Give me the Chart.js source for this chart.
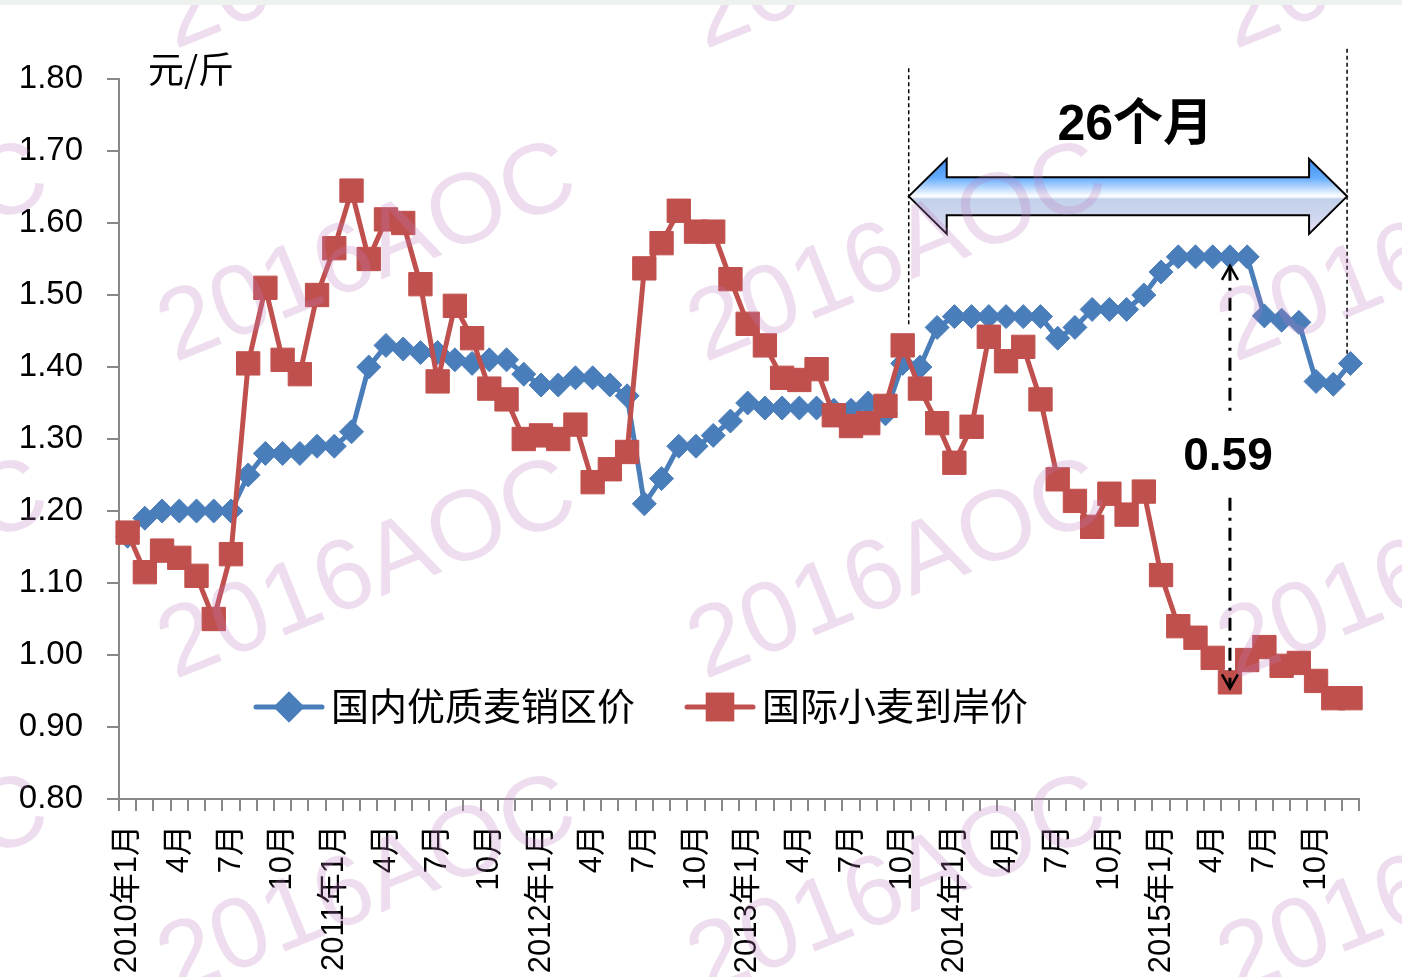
<!DOCTYPE html>
<html lang="zh">
<head>
<meta charset="UTF-8">
<title>国内优质麦销区价 vs 国际小麦到岸价</title>
<script src="https://cdn.jsdelivr.net/npm/chart.js@4.4.0/dist/chart.umd.min.js"></script>
<style>
    body { margin: 0; background: #fff; }
    #wrap { position: relative; width: 1402px; height: 977px; }
    #band { position: absolute; left: 0; top: 0; width: 1402px; height: 5px; background: #eef2ee; }
</style>
</head>
<body>
<div id="wrap">
    <canvas id="c"></canvas>
    <div id="band"></div>
</div>
<script>
// x 轴刻度 (2010年1月 - 2015年12月, 每季度一个标签)
const tickLabels = [
    '2010年1月', '', '', '4月', '', '', '7月', '', '', '10月', '', '',
    '2011年1月', '', '', '4月', '', '', '7月', '', '', '10月', '', '',
    '2012年1月', '', '', '4月', '', '', '7月', '', '', '10月', '', '',
    '2013年1月', '', '', '4月', '', '', '7月', '', '', '10月', '', '',
    '2014年1月', '', '', '4月', '', '', '7月', '', '', '10月', '', '',
    '2015年1月', '', '', '4月', '', '', '7月', '', '', '10月', '', ''
];

// 国内优质麦销区价 (元/斤)
const domestic = [
    1.165, 1.19, 1.20, 1.20, 1.20, 1.20, 1.20, 1.25, 1.28, 1.28, 1.28, 1.29,
    1.29, 1.31, 1.40, 1.43, 1.425, 1.42, 1.42, 1.41, 1.405, 1.41, 1.41, 1.39,
    1.375, 1.375, 1.385, 1.385, 1.375, 1.36, 1.21, 1.245, 1.29, 1.29, 1.305, 1.325,
    1.35, 1.343, 1.343, 1.343, 1.343, 1.34, 1.34, 1.35, 1.335, 1.405, 1.40, 1.455,
    1.47, 1.47, 1.47, 1.47, 1.47, 1.47, 1.44, 1.455, 1.48, 1.48, 1.48, 1.50,
    1.532, 1.553, 1.553, 1.553, 1.553, 1.553, 1.471, 1.465, 1.462, 1.38, 1.376, 1.405
];

// 国际小麦到岸价 (元/斤)
const imported = [
    1.17, 1.115, 1.145, 1.135, 1.11, 1.05, 1.14, 1.405, 1.51, 1.41, 1.39, 1.50,
    1.565, 1.645, 1.55, 1.605, 1.60, 1.515, 1.38, 1.485, 1.44, 1.37, 1.355, 1.30,
    1.305, 1.30, 1.32, 1.24, 1.258, 1.282, 1.537, 1.572, 1.617, 1.588, 1.588, 1.522,
    1.46, 1.43, 1.385, 1.382, 1.397, 1.333, 1.318, 1.322, 1.346, 1.43, 1.37, 1.322,
    1.267, 1.317, 1.442, 1.408, 1.428, 1.355, 1.244, 1.214, 1.178, 1.224, 1.195, 1.227,
    1.111, 1.04, 1.024, 0.996, 0.962, 0.993, 1.011, 0.985, 0.989, 0.964, 0.94, 0.94
];

const BLUE = '#4A7EBB';
const RED = '#C0504D';
const CJK = '"Noto Sans CJK SC"';

// 标注: 26个月区间 (按类目索引) 与价差位置
const spanFrom = 45.35, spanTo = 70.8, gapAt = 64;

function blockArrow(ctx, x1, x2, yc, sh, hh, hl) {
    ctx.beginPath();
    ctx.moveTo(x1, yc);
    ctx.lineTo(x1 + hl, yc - hh);
    ctx.lineTo(x1 + hl, yc - sh);
    ctx.lineTo(x2 - hl, yc - sh);
    ctx.lineTo(x2 - hl, yc - hh);
    ctx.lineTo(x2, yc);
    ctx.lineTo(x2 - hl, yc + hh);
    ctx.lineTo(x2 - hl, yc + sh);
    ctx.lineTo(x1 + hl, yc + sh);
    ctx.lineTo(x1 + hl, yc + hh);
    ctx.closePath();
}

const overlay = {
    id: 'overlay',
    afterDatasetsDraw(chart) {
        const ctx = chart.ctx;
        const xs = chart.scales.x, ys = chart.scales.y;
        const area = chart.chartArea;
        ctx.save();

        // 单位
        ctx.fillStyle = '#000';
        ctx.font = '36px ' + CJK;
        ctx.textAlign = 'left';
        ctx.textBaseline = 'middle';
        ctx.fillText('元/斤', area.left + 29, 69);

        // 竖虚线
        const xa = xs.getPixelForValue(spanFrom), xb = xs.getPixelForValue(spanTo);
        ctx.strokeStyle = '#000';
        ctx.lineWidth = 1.5;
        ctx.setLineDash([4, 3]);
        ctx.beginPath();
        ctx.moveTo(xa, ys.getPixelForValue(1.815));
        ctx.lineTo(xa, ys.getPixelForValue(1.458));
        ctx.moveTo(xb, ys.getPixelForValue(1.842));
        ctx.lineTo(xb, ys.getPixelForValue(1.418));
        ctx.stroke();
        ctx.setLineDash([]);

        // 双向箭头
        const yc = ys.getPixelForValue(1.637);
        const g = ctx.createLinearGradient(0, yc - 37, 0, yc + 37);
        g.addColorStop(0, '#3f8ff0');
        g.addColorStop(0.25, '#66adfc');
        g.addColorStop(0.42, '#cfe4fd');
        g.addColorStop(0.5, '#ffffff');
        g.addColorStop(0.54, '#c2d1ea');
        g.addColorStop(0.76, '#cdd6ee');
        g.addColorStop(1, '#e6e2f6');
        blockArrow(ctx, xa, xb, yc, 19, 37.5, 38);
        ctx.fillStyle = g;
        ctx.fill();
        ctx.lineWidth = 2;
        ctx.strokeStyle = '#000';
        ctx.stroke();

        ctx.fillStyle = '#000';
        ctx.font = 'bold 50px "Liberation Sans", ' + CJK;
        ctx.textAlign = 'center';
        ctx.fillText('26个月', xs.getPixelForValue(58.5), ys.getPixelForValue(1.735));

        // 价差箭头
        const xg = xs.getPixelForValue(gapAt);
        const yTop = ys.getPixelForValue(domestic[gapAt]) + 9;
        const yBot = ys.getPixelForValue(imported[gapAt]) + 6;
        const yTxt = ys.getPixelForValue(1.274);
        ctx.lineWidth = 3;
        ctx.setLineDash([13, 7, 3, 7]);
        ctx.beginPath();
        ctx.moveTo(xg, yTop + 2);
        ctx.lineTo(xg, yTxt - 42);
        ctx.moveTo(xg, yTxt + 40);
        ctx.lineTo(xg, yBot - 2);
        ctx.stroke();
        ctx.setLineDash([]);
        ctx.lineWidth = 2.5;
        ctx.beginPath();
        ctx.moveTo(xg - 8, yTop + 14); ctx.lineTo(xg, yTop); ctx.lineTo(xg + 8, yTop + 14);
        ctx.moveTo(xg - 8, yBot - 14); ctx.lineTo(xg, yBot); ctx.lineTo(xg + 8, yBot - 14);
        ctx.stroke();

        ctx.font = 'bold 46px "Liberation Sans"';
        ctx.fillText((domestic[gapAt] - imported[gapAt]).toFixed(2), xg - 2, yTxt);

        // 图例
        const items = [
            { ds: chart.data.datasets[0], x: 256 },
            { ds: chart.data.datasets[1], x: 687 }
        ];
        const ly = 707;
        items.forEach(it => {
            ctx.strokeStyle = it.ds.borderColor;
            ctx.lineWidth = 5;
            ctx.lineCap = 'round';
            ctx.beginPath();
            ctx.moveTo(it.x, ly);
            ctx.lineTo(it.x + 66, ly);
            ctx.stroke();
            ctx.lineCap = 'butt';
            Chart.helpers.drawPoint(ctx, {
                pointStyle: it.ds.pointStyle,
                radius: it.ds.pointRadius,
                borderWidth: 1
            }, it.x + 33, ly);
            ctx.fillStyle = it.ds.backgroundColor;
            ctx.strokeStyle = it.ds.borderColor;
            ctx.fill();
            ctx.stroke();
            ctx.fillStyle = '#000';
            ctx.font = '38px ' + CJK;
            ctx.textAlign = 'left';
            ctx.fillText(it.ds.label, it.x + 75, ly - 1);
        });
        ctx.restore();
    },
    afterDraw(chart) {
        // 水印
        const ctx = chart.ctx;
        ctx.save();
        ctx.fillStyle = 'rgba(190, 125, 190, 0.26)';
        ctx.font = '100px "Liberation Sans"';
        ctx.textAlign = 'center';
        ctx.textBaseline = 'middle';
        const cols = [-160, 368, 898, 1428];
        const rows = [-58, 255, 572, 888];
        rows.forEach(cy => cols.forEach(cx => {
            ctx.save();
            ctx.translate(cx, cy);
            ctx.rotate(-22 * Math.PI / 180);
            ctx.fillText('2016AOC', 0, 0);
            ctx.restore();
        }));
        ctx.restore();
    }
};

new Chart(document.getElementById('c'), {
    type: 'line',
    data: {
        labels: tickLabels,
        datasets: [{
            label: '国内优质麦销区价',
            data: domestic,
            borderColor: BLUE,
            backgroundColor: BLUE,
            borderWidth: 5,
            pointStyle: 'rectRot',
            pointRadius: 12,
            pointBorderWidth: 1,
            pointBackgroundColor: BLUE,
            pointBorderColor: BLUE,
            tension: 0,
            order: 2
        }, {
            label: '国际小麦到岸价',
            data: imported,
            borderColor: RED,
            backgroundColor: RED,
            borderWidth: 5,
            pointStyle: 'rect',
            pointRadius: 16.5,
            pointBorderWidth: 1,
            pointBackgroundColor: RED,
            pointBorderColor: RED,
            tension: 0,
            order: 1
        }]
    },
    options: {
        responsive: true,
        maintainAspectRatio: false,
        animation: false,
        layout: { padding: { top: 79, right: 41, left: 0, bottom: 0 } },
        plugins: {
            legend: { display: false },
            tooltip: { enabled: false }
        },
        scales: {
            x: {
                type: 'category',
                offset: true,
                grid: { offset: true, drawOnChartArea: false, tickLength: 12, color: '#888', lineWidth: 2 },
                border: { color: '#888', width: 2 },
                ticks: {
                    autoSkip: false,
                    minRotation: 90,
                    maxRotation: 90,
                    padding: 14,
                    color: '#000',
                    font: { family: '"Liberation Sans", ' + CJK, size: 31 }
                },
                afterFit(scale) { scale.height = 178; }
            },
            y: {
                min: 0.8,
                max: 1.8,
                grid: { drawOnChartArea: false, tickLength: 12, color: '#888', lineWidth: 2 },
                border: { color: '#888', width: 2 },
                ticks: {
                    stepSize: 0.1,
                    padding: 24,
                    color: '#000',
                    font: { family: '"Liberation Sans"', size: 33 },
                    callback: v => v.toFixed(2)
                },
                afterFit(scale) { scale.width = 119; }
            }
        }
    },
    plugins: [overlay]
});
</script>
</body>
</html>
